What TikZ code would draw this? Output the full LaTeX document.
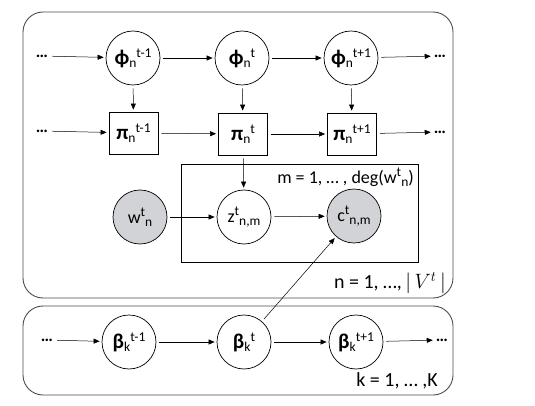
\documentclass[tikz,border=0pt]{standalone}
\usepackage{fontspec}
\setmainfont{Carlito}
\usetikzlibrary{arrows.meta}
\definecolor{obs}{HTML}{D1D3D6}
\newcommand{\gsym}[3]{{\fontsize{21}{21}\selectfont\bfseries #1}{\fontsize{13.5}{13.5}\selectfont\raisebox{-3pt}{#2}\raisebox{7pt}{#3}}}
\newcommand{\vsym}[3]{{\fontsize{18}{18}\selectfont #1}{\fontsize{13.5}{13.5}\selectfont\raisebox{7pt}{#2}\raisebox{-3pt}{#3}}}
\begin{document}
\begin{tikzpicture}[x=1pt,y=-1pt,
  var/.style={circle,draw,line width=0.7pt,minimum size=54pt,inner sep=0pt},
  obsvar/.style={var,fill=obs},
  sq/.style={rectangle,draw,line width=0.8pt,minimum width=49pt,minimum height=42pt,inner sep=0pt},
  dts/.style={inner sep=1pt,font=\fontsize{17}{17}\selectfont\bfseries},
  lbl/.style={inner sep=0pt,font=\fontsize{18}{18}\selectfont},
  lblb/.style={inner sep=0pt,font=\fontsize{20}{20}\selectfont},
  edge/.style={-{Triangle[length=6pt,width=5pt]},line width=0.5pt,shorten <=3pt,shorten >=2pt},
  plate/.style={draw=black!70,line width=0.9pt,rounded corners=20pt}]
\useasboundingbox (0,0) rectangle (535,406);
\draw[plate] (23,12) rectangle (453,298);
\draw[plate] (23,306) rectangle (453,395);
\draw[line width=0.8pt] (181,164) rectangle (418,262);

\node[var] (phi1) at (133,58) {\gsym{ϕ}{n}{t-1}};
\node[var] (phi2) at (242,58) {\gsym{ϕ}{n}{t}};
\node[var] (phi3) at (351,58) {\gsym{ϕ}{n}{t+1}};
\node[dts] (d1) at (42,56) {…};
\node[dts] (d2) at (440,56) {…};

\node[sq] (pi1) at (133.5,133) {\gsym{π}{n}{t-1}};
\node[sq] (pi2) at (243,134) {\gsym{π}{n}{t}};
\node[sq] (pi3) at (352,134) {\gsym{π}{n}{t+1}};
\node[dts] (d3) at (42,131) {…};
\node[dts] (d4) at (440,132) {…};

\node[obsvar] (w) at (140,217) {\vsym{w}{t}{n}};
\node[var] (z) at (244,217) {\vsym{z}{t}{n,m}};
\node[obsvar] (c) at (354,216) {\vsym{c}{t}{n,m}};

\node[var] (b1) at (129,342) {\gsym{β}{k}{t-1}};
\node[var] (b2) at (244,342) {\gsym{β}{k}{t}};
\node[var] (b3) at (356,342) {\gsym{β}{k}{t+1}};
\node[dts] (d5) at (47,340) {…};
\node[dts] (d6) at (442,340) {…};

\node[lbl,anchor=east] (lm) at (414,177) {m = 1, … , deg(w{\fontsize{13.5}{13.5}\selectfont\raisebox{7pt}{t}\raisebox{-3pt}{n}})};
\node[lblb,anchor=east] (ln) at (446,283) {n = 1, …,$\,|\,V^{t}\,|$};
\node[lblb,anchor=east] (lk) at (438,381) {k = 1, … ,K};

\draw[edge] (d1) -- (phi1);
\draw[edge] (phi1) -- (phi2);
\draw[edge] (phi2) -- (phi3);
\draw[edge] (phi3) -- (d2);
\draw[edge] (d3) -- (pi1);
\draw[edge] (pi1) -- (pi2);
\draw[edge] (pi2) -- (pi3);
\draw[edge] (pi3) -- (d4);
\draw[edge] (phi1) -- (pi1);
\draw[edge] (phi2) -- (pi2);
\draw[edge] (phi3) -- (pi3);
\draw[edge] (pi2) -- (z);
\draw[edge] (w) -- (z);
\draw[edge] (z) -- (c);
\draw[edge] (b2) -- (c);
\draw[edge] (d5) -- (b1);
\draw[edge] (b1) -- (b2);
\draw[edge] (b2) -- (b3);
\draw[edge] (b3) -- (d6);
\end{tikzpicture}
\end{document}
